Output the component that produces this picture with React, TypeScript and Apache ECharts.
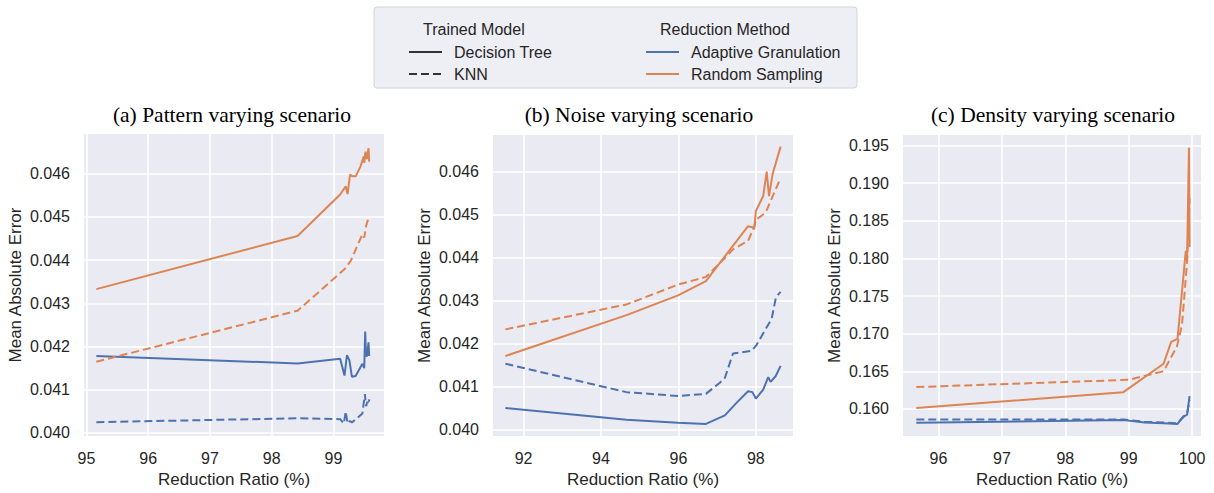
import React, { useEffect, useRef } from 'react';
import * as echarts from 'echarts';

const BLUE = '#4c72b0';
const ORANGE = '#dd8452';

const titles = ['(a) Pattern varying scenario', '(b) Noise varying scenario', '(c) Density varying scenario'];

// (a) Pattern varying
const patAgDtX = [95.16, 98.42, 99.11, 99.18, 99.22, 99.26, 99.30, 99.36, 99.47, 99.50, 99.515, 99.53, 99.545, 99.57, 99.58];
const patAgDtY = [0.04178, 0.04161, 0.04172, 0.04133, 0.04180, 0.04168, 0.04130, 0.04132, 0.04160, 0.04150, 0.04235, 0.04178, 0.04178, 0.04210, 0.04178];
const patAgKnnX = [95.16, 98.42, 99.11, 99.17, 99.20, 99.23, 99.27, 99.30, 99.47, 99.51, 99.53, 99.55, 99.57, 99.58];
const patAgKnnY = [0.04025, 0.04034, 0.04032, 0.04022, 0.04050, 0.04022, 0.04028, 0.04024, 0.04045, 0.04090, 0.04062, 0.04072, 0.04066, 0.04078];
const patRsDtX = [95.16, 98.42, 99.11, 99.20, 99.23, 99.27, 99.31, 99.36, 99.44, 99.49, 99.50, 99.52, 99.54, 99.57, 99.58];
const patRsDtY = [0.04333, 0.04456, 0.04552, 0.04571, 0.04553, 0.04598, 0.04594, 0.04594, 0.04617, 0.04640, 0.04625, 0.04651, 0.04634, 0.04659, 0.04628];
const patRsKnnX = [95.16, 98.42, 99.18, 99.28, 99.47, 99.50, 99.53, 99.56, 99.58];
const patRsKnnY = [0.04165, 0.04283, 0.04379, 0.04398, 0.04460, 0.04452, 0.04479, 0.04494, 0.04502];

// (b) Noise varying
const noiAgDtX = [91.53, 94.66, 95.99, 96.71, 97.20, 97.50, 97.80, 97.91, 98.00, 98.19, 98.32, 98.38, 98.51, 98.64];
const noiAgDtY = [0.04051, 0.04024, 0.04017, 0.04014, 0.04034, 0.04063, 0.04090, 0.04088, 0.04073, 0.04094, 0.04123, 0.04112, 0.04125, 0.04149];
const noiAgKnnX = [91.53, 94.66, 95.99, 96.71, 97.07, 97.20, 97.41, 97.89, 98.02, 98.41, 98.52, 98.64];
const noiAgKnnY = [0.04154, 0.04088, 0.04079, 0.04084, 0.04110, 0.04121, 0.04178, 0.04184, 0.04198, 0.04259, 0.04309, 0.04321];
const noiRsDtX = [91.53, 94.66, 95.99, 96.71, 97.15, 97.80, 97.93, 97.96, 98.00, 98.19, 98.28, 98.34, 98.43, 98.64];
const noiRsDtY = [0.04172, 0.04267, 0.04313, 0.04346, 0.04398, 0.04474, 0.04471, 0.04467, 0.04509, 0.04544, 0.04601, 0.04544, 0.04594, 0.04659];
const noiRsKnnX = [91.53, 94.66, 95.99, 96.71, 97.20, 97.41, 97.80, 97.93, 98.02, 98.25, 98.64];
const noiRsKnnY = [0.04234, 0.04292, 0.04338, 0.04356, 0.04400, 0.04420, 0.04440, 0.04467, 0.04490, 0.04505, 0.04586];

// (c) Density varying
const denAgDtX = [95.65, 98.92, 99.25, 99.55, 99.77, 99.86, 99.92, 99.96];
const denAgDtY = [0.15815, 0.15851, 0.1582, 0.1581, 0.1580, 0.1590, 0.1592, 0.1617];
const denAgKnnX = [95.65, 98.92, 99.25, 99.55, 99.77, 99.86, 99.92, 99.96];
const denAgKnnY = [0.15859, 0.15859, 0.1583, 0.1582, 0.1581, 0.1589, 0.1593, 0.1612];
const denRsDtX = [95.65, 98.91, 99.55, 99.67, 99.77, 99.90, 99.92, 99.95, 99.96];
const denRsDtY = [0.16013, 0.1622, 0.1660, 0.1689, 0.1693, 0.1810, 0.1795, 0.1947, 0.1815];
const denRsKnnX = [95.65, 99.0, 99.55, 99.76, 99.84, 99.92, 99.96];
const denRsKnnY = [0.1629, 0.16387, 0.1650, 0.1683, 0.1711, 0.1795, 0.1880];

const zip = (xs: number[], ys: number[]) => xs.map((x, i) => [x, ys[i]]);

const FONT = "'Liberation Sans', Arial, sans-serif";
const SERIF = "'Liberation Serif', 'Times New Roman', serif";
const TXT = '#262626';

export default function App() {
  const ref = useRef<HTMLDivElement>(null);
  useEffect(() => {
    if (!ref.current) return;
    const chart = echarts.init(ref.current, undefined, { renderer: 'svg' });

    const grids = [
      { left: 84, top: 134, width: 300, height: 304 },
      { left: 493, top: 135, width: 300, height: 303 },
      { left: 903, top: 135, width: 298, height: 303 },
    ];
    const xRanges = [
      { min: 94.96, max: 99.82, step: 1 },
      { min: 91.21, max: 98.96, step: 2 },
      { min: 95.44, max: 100.14, step: 1 },
    ];
    const yRanges = [
      { min: 0.03993, max: 0.04692, step: 0.001, dec: 3 },
      { min: 0.03986, max: 0.04686, step: 0.001, dec: 3 },
      { min: 0.1564, max: 0.1964, step: 0.005, dec: 3 },
    ];

    const xAxis = xRanges.map((r, i) => ({
      type: 'value',
      gridIndex: i,
      min: r.min,
      max: r.max,
      minInterval: r.step,
      maxInterval: r.step,
      name: 'Reduction Ratio (%)',
      nameLocation: 'middle',
      nameGap: 35,
      nameTextStyle: { fontFamily: FONT, fontSize: 17, color: TXT },
      axisLine: { show: false },
      axisTick: { show: false },
      axisLabel: {
        margin: 14,
        fontFamily: FONT,
        fontSize: 16,
        color: TXT,
        showMinLabel: false,
        showMaxLabel: false,
        formatter: (v: number) => String(Math.round(v)),
      },
      splitLine: { show: true, showMinLine: false, showMaxLine: false, lineStyle: { color: '#ffffff', width: 1.6 } },
    }));

    const yAxis = yRanges.map((r, i) => ({
      type: 'value',
      gridIndex: i,
      min: r.min,
      max: r.max,
      minInterval: r.step,
      maxInterval: r.step,
      name: 'Mean Absolute Error',
      nameLocation: 'middle',
      nameGap: 60,
      nameTextStyle: { fontFamily: FONT, fontSize: 17, color: TXT },
      axisLine: { show: false },
      axisTick: { show: false },
      axisLabel: {
        margin: 14,
        fontFamily: FONT,
        fontSize: 16,
        color: TXT,
        showMinLabel: false,
        showMaxLabel: false,
        formatter: (v: number) => v.toFixed(r.dec),
      },
      splitLine: { show: true, showMinLine: false, showMaxLine: false, lineStyle: { color: '#ffffff', width: 1.6 } },
    }));

    const mk = (g: number, xs: number[], ys: number[], color: string, dashed: boolean, name: string) => ({
      type: 'line',
      name,
      xAxisIndex: g,
      yAxisIndex: g,
      data: zip(xs, ys),
      showSymbol: false,
      symbol: 'none',
      silent: true,
      lineStyle: { color, width: 2, type: dashed ? [8, 4] : 'solid' },
    });

    const series = [
      mk(0, patAgDtX, patAgDtY, BLUE, false, 'AG DT'),
      mk(0, patAgKnnX, patAgKnnY, BLUE, true, 'AG KNN'),
      mk(0, patRsDtX, patRsDtY, ORANGE, false, 'RS DT'),
      mk(0, patRsKnnX, patRsKnnY, ORANGE, true, 'RS KNN'),
      mk(1, noiAgDtX, noiAgDtY, BLUE, false, 'AG DT'),
      mk(1, noiAgKnnX, noiAgKnnY, BLUE, true, 'AG KNN'),
      mk(1, noiRsDtX, noiRsDtY, ORANGE, false, 'RS DT'),
      mk(1, noiRsKnnX, noiRsKnnY, ORANGE, true, 'RS KNN'),
      mk(2, denAgDtX, denAgDtY, BLUE, false, 'AG DT'),
      mk(2, denAgKnnX, denAgKnnY, BLUE, true, 'AG KNN'),
      mk(2, denRsDtX, denRsDtY, ORANGE, false, 'RS DT'),
      mk(2, denRsKnnX, denRsKnnY, ORANGE, true, 'RS KNN'),
    ];

    const titleCenters = [232, 639, 1053];
    const title = titles.map((t, i) => ({
      text: t,
      left: titleCenters[i],
      top: 104,
      textAlign: 'center',
      padding: 0,
      textStyle: { fontFamily: SERIF, fontSize: 21.5, fontWeight: 'normal', color: '#000' },
    }));

    const legendText = (text: string, x: number, y: number) => ({
      type: 'text',
      x,
      y,
      style: { text, fontFamily: FONT, fontSize: 16, fill: TXT, verticalAlign: 'middle', align: 'left' },
    });
    const legendLine = (x1: number, x2: number, y: number, color: string, dashed: boolean) => ({
      type: 'line',
      shape: { x1, y1: y, x2, y2: y },
      style: { stroke: color, lineWidth: 2, lineDash: dashed ? [8, 4] : null },
    });

    const graphic = [
      {
        type: 'rect',
        shape: { x: 374, y: 7, width: 483, height: 81, r: 3 },
        style: { fill: '#eeeef5', stroke: '#d4d4d4', lineWidth: 1 },
      },
      legendText('Trained Model', 423, 29),
      legendLine(409, 442, 52, '#333333', false),
      legendText('Decision Tree', 454, 52),
      legendLine(409, 442, 74, '#333333', true),
      legendText('KNN', 454, 74),
      legendText('Reduction Method', 660, 29),
      legendLine(646, 679, 52, BLUE, false),
      legendText('Adaptive Granulation', 691, 52),
      legendLine(646, 679, 74, ORANGE, false),
      legendText('Random Sampling', 691, 74),
    ];

    chart.setOption({
      animation: false,
      backgroundColor: '#ffffff',
      title,
      grid: grids.map((g) => ({ ...g, show: true, backgroundColor: '#eaeaf2', borderWidth: 0 })),
      xAxis,
      yAxis,
      series,
      graphic,
    } as any);

    return () => chart.dispose();
  }, []);

  return <div ref={ref} style={{ position: 'fixed', left: 0, top: 0, width: 1214, height: 493 }} />;
}
